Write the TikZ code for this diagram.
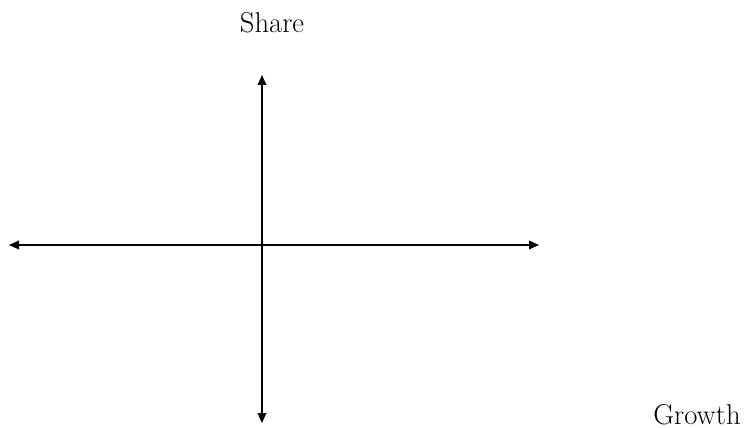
\documentclass[tikz,border=0pt]{standalone}
\usetikzlibrary{arrows.meta}
\begin{document}
\begin{tikzpicture}[x=0.75pt,y=-0.75pt,
  axis/.style={line width=1pt,{Triangle[length=7.5pt,width=6.5pt]}-{Triangle[length=7.5pt,width=6.5pt]}},
  lbl/.style={font=\fontsize{21.5}{25}\selectfont,inner sep=0pt,anchor=base}]
\useasboundingbox (0,0) rectangle (751,428);

\coordinate (top) at (262,75);
\coordinate (bottom) at (262,423);
\coordinate (left) at (9,245);
\coordinate (right) at (539,245);

\draw[axis] (bottom) -- (top);
\draw[axis] (left) -- (right);

\node[lbl] (share) at (272,33) {Share};
\node[lbl] (growth) at (697,424) {Growth};
\end{tikzpicture}
\end{document}
